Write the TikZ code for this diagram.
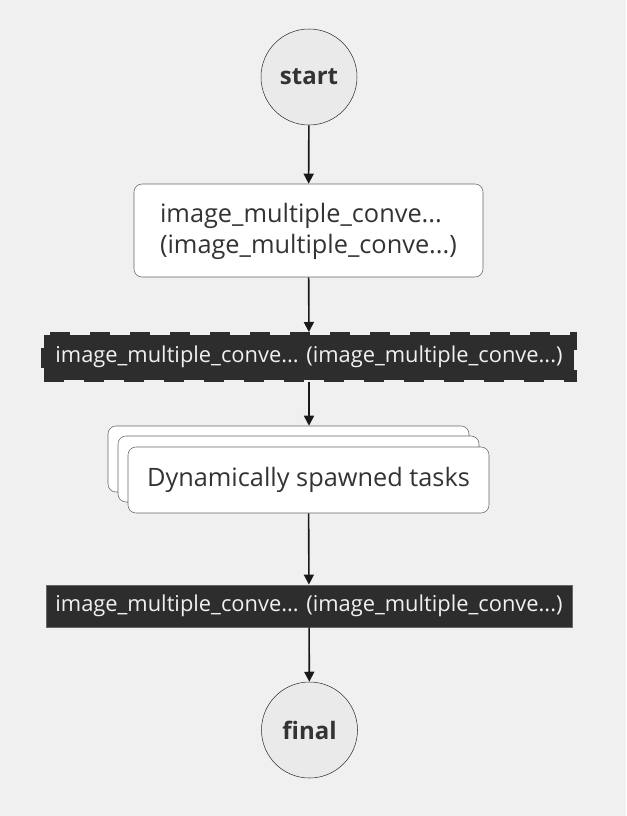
\documentclass[tikz,border=0pt]{standalone}
\usepackage{fontspec}
\setmainfont{Open Sans}
\usetikzlibrary{arrows.meta}
\definecolor{bg}{HTML}{F0F0F0}
\definecolor{ink}{HTML}{333333}
\definecolor{edge}{HTML}{666666}
\definecolor{barfill}{HTML}{2D2D2D}
\definecolor{termfill}{HTML}{EAEAEA}
\tikzset{
  term/.style={circle,draw=ink,fill=termfill,minimum size=72pt,inner sep=0pt,
    text=ink,font=\fontsize{18}{20}\selectfont\bfseries},
  taskbox/.style={rectangle,rounded corners=6pt,draw=edge,fill=white,
    text=ink,font=\fontsize{19}{23}\selectfont},
  darkbar/.style={rectangle,fill=barfill,text=bg,inner sep=0pt,
    font=\fontsize{16.4}{18}\selectfont},
  flow/.style={-{Triangle[length=7.5pt,width=7.5pt]},line width=1.2pt,draw=black!90}
}
\begin{document}
\begin{tikzpicture}[x=0.75pt,y=-0.75pt]
\useasboundingbox[fill=bg] (0,0) rectangle (626,816);

\node[term] (start) at (309,77) {start};

\node[taskbox,minimum width=261.75pt,minimum height=69.75pt,align=left]
  (conv) at (308.5,230.5) {\rule{0pt}{16pt}image\_multiple\_conve...\\ (image\_multiple\_conve...)};

% mapped task, dashed border
\node[darkbar,draw=barfill,line width=3.75pt,dash pattern=on 15pt off 15pt,
  minimum width=398pt,minimum height=33.75pt]
  (expand) at (309,357) {image\_multiple\_conve... (image\_multiple\_conve...)};

% stack of spawned tasks
\node[taskbox,minimum width=270.75pt,minimum height=49.5pt] (stackc) at (288.5,459) {};
\node[taskbox,minimum width=270.75pt,minimum height=49.5pt] (stackb) at (298.5,469) {};
\node[taskbox,minimum width=270.75pt,minimum height=49.5pt] (spawn) at (308.5,480)
  {Dynamically spawned tasks};

\node[darkbar,draw=edge,line width=0.6pt,minimum width=394.5pt,minimum height=31.5pt]
  (reduce) at (309,606) {image\_multiple\_conve... (image\_multiple\_conve...)};

\node[term] (final) at (309.5,730) {final};

\draw[flow] (start) -- (conv);
\draw[flow] (conv) -- (expand);
\draw[flow] (expand.south) -- (expand.south |- stackc.north);
\draw[flow] (spawn) -- (reduce);
\draw[flow] (reduce) -- (final);

\end{tikzpicture}
\end{document}
